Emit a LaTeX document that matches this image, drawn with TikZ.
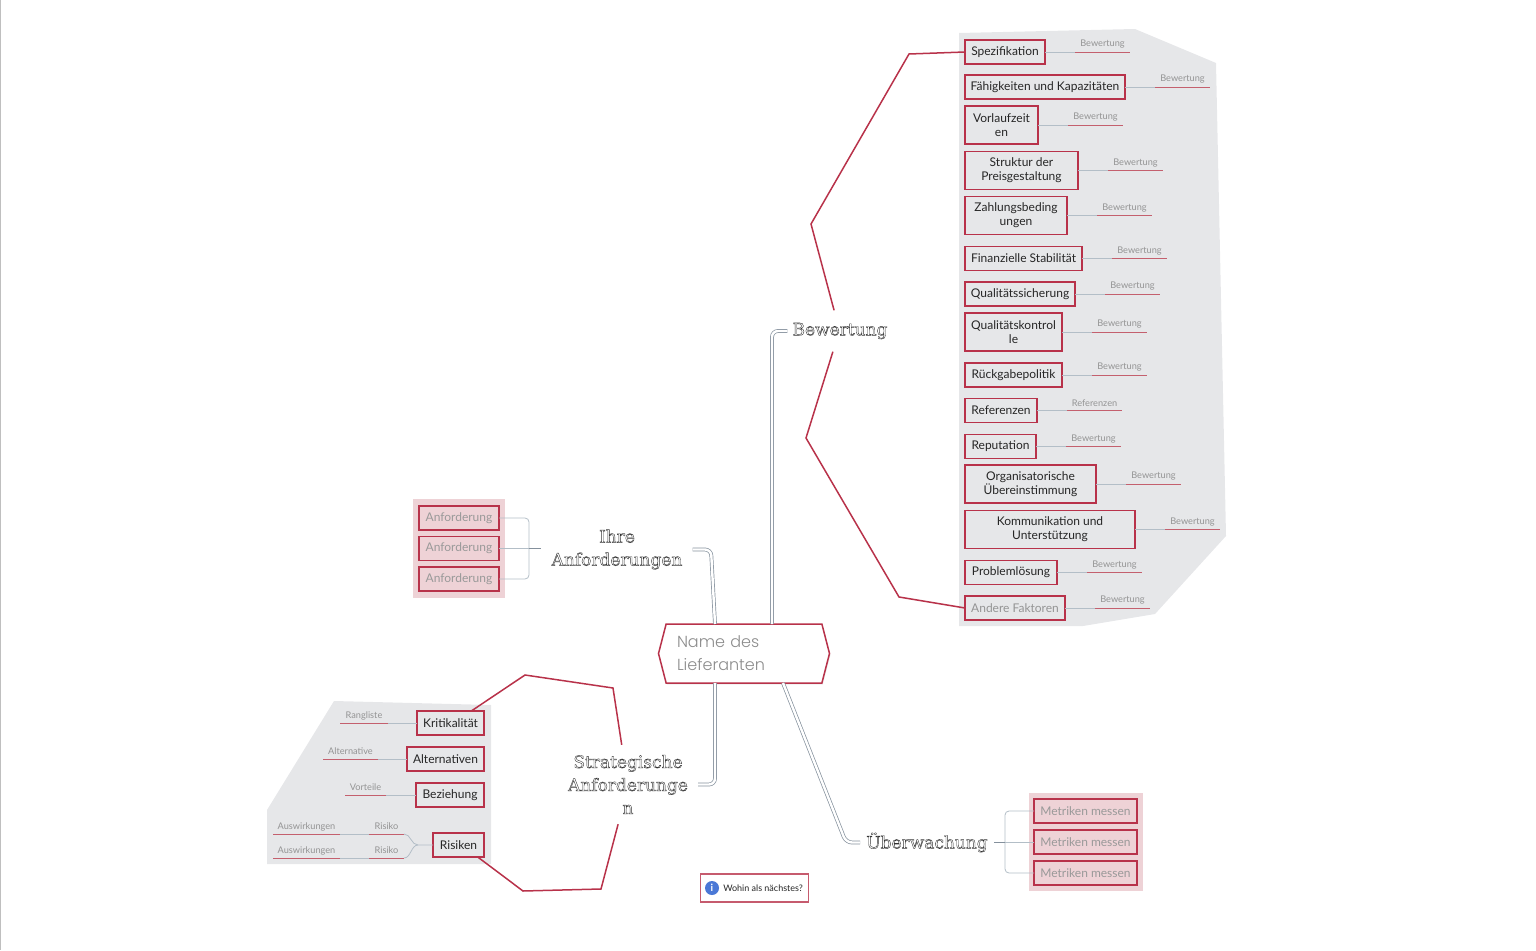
\documentclass[tikz,border=0pt]{standalone}
\usepackage{fontspec}
\setmainfont{Lato}
\newfontfamily\slabfont{DejaVu Serif}
\newfontfamily\namefont{Poppins Light}
\usetikzlibrary{shapes,shapes.symbols,positioning,shadows}
\definecolor{rim}{HTML}{B8324A}
\definecolor{under}{HTML}{C4606E}
\definecolor{twig}{HTML}{B3BEC7}
\definecolor{limb}{HTML}{84909C}
\definecolor{cloud}{HTML}{E6E7E9}
\definecolor{blush}{HTML}{EED2D6}
\definecolor{infoblue}{HTML}{4A78D6}
\newcommand{\hollowon}{\special{pdf:code 1 Tr 0.4 w}}
\newcommand{\hollowoff}{\special{pdf:code 0 Tr}}
\tikzstyle{factor} = [draw=rim, line width=1.2pt, fill=cloud, rectangle, anchor=west, align=center,
inner sep=0pt, outer sep=0pt, minimum height=24pt, text=black!85, font=\fontsize{12}{14}\selectfont]
\tikzstyle{need} = [factor, fill=blush, text=black!40]
\tikzstyle{rate} = [inner sep=0pt, outer sep=0pt, minimum width=55pt, minimum height=15pt,
text=black!42, font=\fontsize{9.2}{10}\selectfont]
\tikzstyle{topic} = [align=center, inner sep=7pt, text=black!80, font=\slabfont\fontsize{17}{23}\selectfont]
\tikzstyle{stem} = [draw=twig, line width=0.8pt]
\tikzstyle{redline} = [draw=under, line width=0.9pt]
\tikzstyle{bound} = [draw=rim, line width=1.5pt, line join=miter]
\tikzstyle{limbline} = [draw=limb, line width=0.7pt, double=white, double distance=2.4pt, rounded corners=6pt]
\tikzstyle{forkline} = [draw=twig, line width=0.8pt, rounded corners=4pt]

\begin{document}
\begin{tikzpicture}[x=1pt, y=-1pt]
\useasboundingbox (0,0) rectangle (1536,950);
\fill [black!25] (0,0) rectangle (1,950);

% The grey and pink areas go first, under everything else
\fill [cloud] (959,33) -- (1135,29) -- (1216,63) -- (1226,536) -- (1155,614) -- (1083,626) -- (959,626) -- cycle;
\fill [cloud] (267,810) -- (334,701) -- (491,705) -- (491,864) -- (267,864) -- cycle;
\fill [blush] (413,499) rectangle (505,598);
\fill [blush] (1029,793) rectangle (1143,891);

% Main node and the four topics
\node [signal, signal to=west and east, signal pointer angle=151, draw=rim, line width=1.5pt, fill=white,
minimum width=171pt, minimum height=59pt, inner sep=0pt, text width=134pt, align=left, text=black!45,
drop shadow={opacity=.15, shadow xshift=1pt, shadow yshift=-1.5pt},
font=\namefont\fontsize{16}{23}\selectfont] (name) at (744,653.5) {Name des\\Lieferanten};
\node [topic, inner sep=5pt, minimum height=41pt] (bew) at (840,331) {\hollowon Bewertung\hollowoff};
\node [topic, inner sep=10pt] (ihre) at (617,549.5) {\hollowon Ihre\\Anforderungen\hollowoff};
\node [topic, inner sep=10pt] (strat) at (628,784.5) {\hollowon Strategische\\Anforderunge\\n\hollowoff};
\node [topic, inner sep=6pt] (ueber) at (927,842.5) {\hollowon Überwachung\hollowoff};

% Factors on the right, each with its rating
\node [factor, minimum width=80pt] (spec) at (965,52) {Spezifikation};
\node [factor, minimum width=160pt] (abil) at (965,87) {Fähigkeiten und Kapazitäten};
\node [factor, minimum width=73pt, minimum height=38pt] (lead) at (965,125) {Vorlaufzeit\\en};
\node [factor, minimum width=113pt, minimum height=38pt] (price) at (965,170.5) {Struktur der\\Preisgestaltung};
\node [factor, minimum width=102pt, minimum height=38pt] (pay) at (965,215.5) {Zahlungsbeding\\ungen};
\node [factor, minimum width=117pt] (fin) at (965,258.5) {Finanzielle Stabilität};
\node [factor, minimum width=110pt] (qual) at (965,294) {Qualitätssicherung};
\node [factor, minimum width=97pt, minimum height=38pt] (ctrl) at (965,332) {Qualitätskontrol\\le};
\node [factor, minimum width=97pt] (back) at (965,375) {Rückgabepolitik};
\node [factor, minimum width=72pt] (refs) at (965,410.5) {Referenzen};
\node [factor, minimum width=71pt] (repu) at (965,446.5) {Reputation};
\node [factor, minimum width=131pt, minimum height=38pt] (org) at (965,484) {Organisatorische\\Übereinstimmung};
\node [factor, minimum width=170pt, minimum height=38pt] (comm) at (965,529.5) {Kommunikation und\\Unterstützung};
\node [factor, minimum width=92pt] (prob) at (965,572.5) {Problemlösung};
\node [factor, minimum width=100pt, text=black!42] (other) at (965,608) {Andere Faktoren};

\node [rate, above right=0pt and 30pt of spec.east] (specr) {Bewertung};
\node [rate, above right=0pt and 30pt of abil.east] (abilr) {Bewertung};
\node [rate, above right=0pt and 30pt of lead.east] (leadr) {Bewertung};
\node [rate, above right=0pt and 30pt of price.east] (pricer) {Bewertung};
\node [rate, above right=0pt and 30pt of pay.east] (payr) {Bewertung};
\node [rate, above right=0pt and 30pt of fin.east] (finr) {Bewertung};
\node [rate, above right=0pt and 30pt of qual.east] (qualr) {Bewertung};
\node [rate, above right=0pt and 30pt of ctrl.east] (ctrlr) {Bewertung};
\node [rate, above right=0pt and 30pt of back.east] (backr) {Bewertung};
\node [rate, above right=0pt and 30pt of refs.east] (refsr) {Referenzen};
\node [rate, above right=0pt and 30pt of repu.east] (repur) {Bewertung};
\node [rate, above right=0pt and 30pt of org.east] (orgr) {Bewertung};
\node [rate, above right=0pt and 30pt of comm.east] (commr) {Bewertung};
\node [rate, above right=0pt and 30pt of prob.east] (probr) {Bewertung};
\node [rate, above right=0pt and 30pt of other.east] (otherr) {Bewertung};

\draw [stem] (spec.east) -- (specr.south west); \draw [redline] (specr.south west) -- (specr.south east);
\draw [stem] (abil.east) -- (abilr.south west); \draw [redline] (abilr.south west) -- (abilr.south east);
\draw [stem] (lead.east) -- (leadr.south west); \draw [redline] (leadr.south west) -- (leadr.south east);
\draw [stem] (price.east) -- (pricer.south west); \draw [redline] (pricer.south west) -- (pricer.south east);
\draw [stem] (pay.east) -- (payr.south west); \draw [redline] (payr.south west) -- (payr.south east);
\draw [stem] (fin.east) -- (finr.south west); \draw [redline] (finr.south west) -- (finr.south east);
\draw [stem] (qual.east) -- (qualr.south west); \draw [redline] (qualr.south west) -- (qualr.south east);
\draw [stem] (ctrl.east) -- (ctrlr.south west); \draw [redline] (ctrlr.south west) -- (ctrlr.south east);
\draw [stem] (back.east) -- (backr.south west); \draw [redline] (backr.south west) -- (backr.south east);
\draw [stem] (refs.east) -- (refsr.south west); \draw [redline] (refsr.south west) -- (refsr.south east);
\draw [stem] (repu.east) -- (repur.south west); \draw [redline] (repur.south west) -- (repur.south east);
\draw [stem] (org.east) -- (orgr.south west); \draw [redline] (orgr.south west) -- (orgr.south east);
\draw [stem] (comm.east) -- (commr.south west); \draw [redline] (commr.south west) -- (commr.south east);
\draw [stem] (prob.east) -- (probr.south west); \draw [redline] (probr.south west) -- (probr.south east);
\draw [stem] (other.east) -- (otherr.south west); \draw [redline] (otherr.south west) -- (otherr.south east);

% Requirements on the left
\node [need, minimum width=80pt] (req) at (419,518) {Anforderung};
\node [need, minimum width=80pt] (reqb) at (419,548.5) {Anforderung};
\node [need, minimum width=80pt] (reqc) at (419,579) {Anforderung};
\draw [forkline] (req.east) -- (529,518) -- (529,579) -- (reqc.east);
\draw [stem] (reqb.east) -- (ihre.west |- reqb.east);
\draw [draw=limb, line width=0.8pt] (529,548.5) -- (ihre.west |- reqb.east);

% Measures at the bottom right
\node [need, minimum width=103pt] (mess) at (1034,811) {Metriken messen};
\node [need, minimum width=103pt] (messb) at (1034,842) {Metriken messen};
\node [need, minimum width=103pt] (messc) at (1034,873) {Metriken messen};
\draw [forkline] (mess.west) -- (1005,811) -- (1005,873) -- (messc.west);
\draw [stem] (messb.west) -- (ueber.east |- messb.west);
\draw [draw=limb, line width=0.8pt] (1005,842) -- (ueber.east |- messb.west);

% Strategic items with their entries
\node [factor, minimum width=67pt] (krit) at (417,723) {Kritikalität};
\node [factor, minimum width=77pt] (alt) at (407,759) {Alternativen};
\node [factor, minimum width=68pt] (bez) at (416,795) {Beziehung};
\node [factor, minimum width=51pt] (risk) at (433,845) {Risiken};
\node [rate, minimum width=48pt, above left=0pt and 29pt of krit.west] (kritr) {Rangliste};
\node [rate, above left=0pt and 29pt of alt.west] (altr) {Alternative};
\node [rate, minimum width=41pt, above left=0pt and 30pt of bez.west] (bezr) {Vorteile};
\node [rate, minimum width=35pt, anchor=south west] (rska) at (369,834) {Risiko};
\node [rate, minimum width=35pt, anchor=south west] (rskb) at (369,858) {Risiko};
\node [rate, minimum width=67pt, left=29pt of rska] (fola) {Auswirkungen};
\node [rate, minimum width=67pt, left=29pt of rskb] (folb) {Auswirkungen};

\draw [stem] (krit.west) -- (kritr.south east); \draw [redline] (kritr.south east) -- (kritr.south west);
\draw [stem] (alt.west) -- (altr.south east); \draw [redline] (altr.south east) -- (altr.south west);
\draw [stem] (bez.west) -- (bezr.south east); \draw [redline] (bezr.south east) -- (bezr.south west);
\draw [redline] (rska.south west) -- (rska.south east);
\draw [redline] (rskb.south west) -- (rskb.south east);
\draw [redline] (fola.south west) -- (fola.south east);
\draw [redline] (folb.south west) -- (folb.south east);
\draw [stem] (fola.south east) -- (rska.south west);
\draw [stem] (folb.south east) -- (rskb.south west);
\draw [stem] (rska.south east) .. controls (411,834) and (411,845) .. (418,845) -- (risk.west);
\draw [stem] (rskb.south east) .. controls (411,858) and (411,845) .. (418,845);

% Double lines from the main node to the topics
\draw [limbline] (772,624) -- (772,331) -- (bew.west);
\draw [limbline] (715,624) -- (711,549.5) -- (ihre.east);
\draw [limbline] (715,683) -- (715,784.5) -- (strat.east);
\draw [limbline] (783,683) -- (846,842.5) -- (ueber.west);

% Red outlines that run round the topics
\draw [bound] (spec.west) -- (909,54) -- (811,224) -- (bew.106);
\draw [bound] (other.west) -- (899,597) -- (806,438) -- (bew.251);
\draw [bound] (krit.30) -- (525,675) -- (613,688) -- (strat.99);
\draw [bound] (risk.-32) -- (523,891) -- (601,889) -- (strat.256);

% Small note with its icon
\node [draw=rim!80, line width=1.2pt, fill=white, anchor=west, minimum width=108pt, minimum height=28pt, inner sep=0pt,
text=black!85, font=\fontsize{9}{10}\selectfont] (next) at (699.5,888) {\hspace*{18pt}Wohin als nächstes?};
\node [circle, fill=infoblue, minimum size=14pt, inner sep=0pt, text=white, font=\bfseries\fontsize{10}{10}\selectfont] (info) at (712,888) {i};
\end{tikzpicture}
\end{document}
